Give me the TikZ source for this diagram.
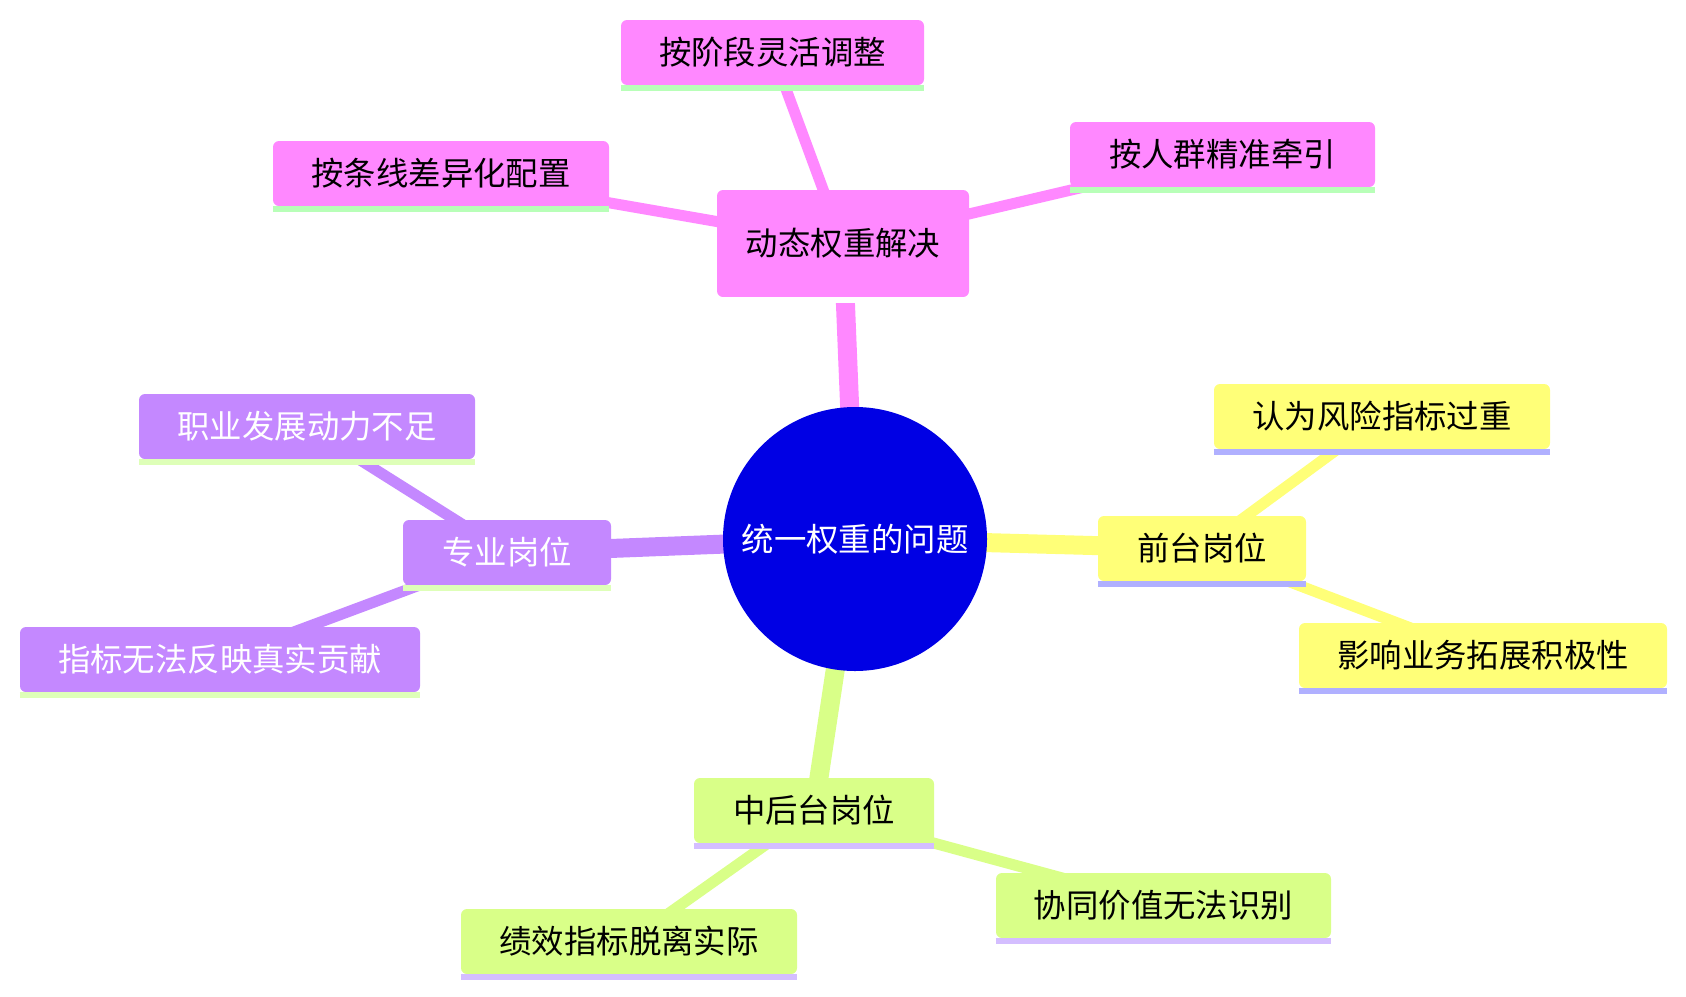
\documentclass[tikz,border=0pt]{standalone}
\usepackage{fontspec}
\setmainfont{Noto Sans CJK SC}
\usetikzlibrary{backgrounds}
\definecolor{pinkf}{RGB}{255,136,255}
\definecolor{pinku}{RGB}{184,255,184}
\definecolor{yelf}{RGB}{255,255,120}
\definecolor{yelu}{RGB}{176,176,255}
\definecolor{purf}{RGB}{196,136,255}
\definecolor{puru}{RGB}{222,255,184}
\definecolor{grnf}{RGB}{217,255,136}
\definecolor{grnu}{RGB}{212,190,255}
\definecolor{rootf}{RGB}{0,0,228}
\tikzset{
  box/.style={rectangle, rounded corners=6pt, inner sep=0pt, font=\fontsize{32.4}{36}\selectfont, text=black},
  rootnode/.style={circle, fill=rootf, minimum size=264pt, inner sep=0pt, text=white, font=\fontsize{32.4}{36}\selectfont},
  uline/.style={line width=5.5pt},
  thick edge/.style={line width=19pt},
  thin edge/.style={line width=11pt},
}
\newcommand{\mmbox}[8]{%
  \node[box, fill=#5, text=#7, minimum width=#3pt, minimum height=#4pt] (#1) at #2 {\raisebox{-1.5pt}{#8}};
  \draw[uline, #6] ([yshift=-2.75pt]#1.south west) -- ([yshift=-2.75pt]#1.south east);
}
\begin{document}
\begin{tikzpicture}[x=1pt, y=-1pt]
\useasboundingbox (0,0) rectangle (1686,996);
\node[rootnode] (root) at (855,539) {统一权重的问题};
% pink
\mmbox{dyn}{(843,243.5)}{252}{107}{pinkf}{white}{black}{动态权重解决}
\mmbox{a1}{(772.5,52.5)}{303}{65}{pinkf}{pinku}{black}{按阶段灵活调整}
\mmbox{a2}{(441,173.5)}{336}{65}{pinkf}{pinku}{black}{按条线差异化配置}
\mmbox{a3}{(1222.5,154.5)}{305}{65}{pinkf}{pinku}{black}{按人群精准牵引}
% yellow
\mmbox{front}{(1202,548.5)}{208}{65}{yelf}{yelu}{black}{前台岗位}
\mmbox{f1}{(1382,416.5)}{336}{65}{yelf}{yelu}{black}{认为风险指标过重}
\mmbox{f2}{(1483,655.5)}{368}{65}{yelf}{yelu}{black}{影响业务拓展积极性}
% purple
\mmbox{prof}{(507,552.5)}{208}{65}{purf}{puru}{white}{专业岗位}
\mmbox{p1}{(307,426.5)}{336}{65}{purf}{puru}{white}{职业发展动力不足}
\mmbox{p2}{(220,659.5)}{400}{65}{purf}{puru}{white}{指标无法反映真实贡献}
% green
\mmbox{mid}{(814,810.5)}{240}{65}{grnf}{grnu}{black}{中后台岗位}
\mmbox{m1}{(1163.5,905.5)}{335}{65}{grnf}{grnu}{black}{协同价值无法识别}
\mmbox{m2}{(629,941.5)}{336}{65}{grnf}{grnu}{black}{绩效指标脱离实际}
\begin{scope}[on background layer]
  \draw[thick edge, pinkf] (root.center) -- (dyn.center);
  \draw[thick edge, yelf] (root.center) -- (front.center);
  \draw[thick edge, purf] (root.center) -- (prof.center);
  \draw[thick edge, grnf] (root.center) -- (mid.center);
  \draw[thin edge, pinkf] (dyn.center) -- (a1.center);
  \draw[thin edge, pinkf] (dyn.center) -- (a2.center);
  \draw[thin edge, pinkf] (dyn.center) -- (a3.center);
  \draw[thin edge, yelf] (front.center) -- (f1.center);
  \draw[thin edge, yelf] (front.center) -- (f2.center);
  \draw[thin edge, purf] (prof.center) -- (p1.center);
  \draw[thin edge, purf] (prof.center) -- (p2.center);
  \draw[thin edge, grnf] (mid.center) -- (m1.center);
  \draw[thin edge, grnf] (mid.center) -- (m2.center);
\end{scope}
\end{tikzpicture}
\end{document}
